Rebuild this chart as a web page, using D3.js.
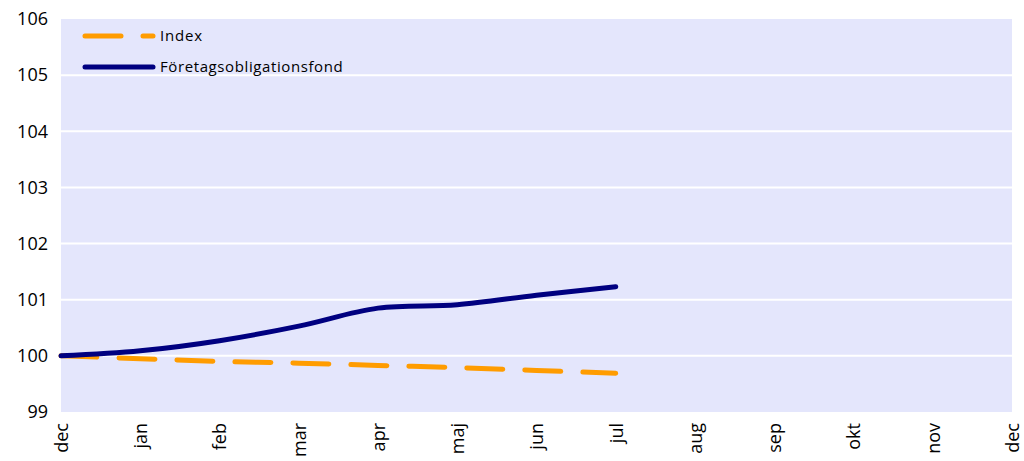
<!DOCTYPE html>
<html>
<head>
<meta charset="utf-8">
<script src="https://cdn.jsdelivr.net/npm/d3@7"></script>
<style>
  body { margin: 0; background: #fff; }
  text { font-family: "Open Sans", "Noto Sans", sans-serif; }
</style>
</head>
<body>
<svg id="chart" width="1024" height="461"></svg>
<script>
// data
var months = ["dec", "jan", "feb", "mar", "apr", "maj", "jun", "jul", "aug", "sep", "okt", "nov", "dec2"]
var fondValues = [100, 100.09, 100.27, 100.53, 100.85, 100.91, 101.08, 101.23]
var indexValues = [100, 99.95, 99.9, 99.87, 99.83, 99.79, 99.74, 99.69]
var yTicks = [99, 100, 101, 102, 103, 104, 105, 106]

var margin = { left: 61, top: 19, right: 12, bottom: 49 }
var width = 1024 - margin.left - margin.right
var height = 461 - margin.top - margin.bottom

var svg = d3.select("#chart")
var chart = svg.append("g")
  .attr("transform", "translate(" + margin.left + "," + margin.top + ")")

var xscale = d3.scalePoint().domain(months).range([0, width])
var yscale = d3.scaleLinear().domain([99, 106]).range([height, 0])

// plot background
chart.append("rect")
  .attr("width", width)
  .attr("height", height)
  .attr("fill", "#e4e6fc")

// white gridlines
chart.selectAll(".grid")
  .data(yTicks.slice(1, -1))
  .enter()
  .append("line")
  .attr("x1", 0)
  .attr("x2", width)
  .attr("y1", function (d) { return yscale(d) })
  .attr("y2", function (d) { return yscale(d) })
  .attr("stroke", "#fff")
  .attr("stroke-width", 2)

// y axis labels
var yAxis = d3.axisLeft(yscale).tickValues(yTicks).tickFormat(d3.format("d")).tickSize(0).tickPadding(13)
chart.append("g").call(yAxis)
  .call(function (g) { g.select(".domain").remove() })
  .selectAll("text")
  .style("font-size", "18px")
  .style("font-family", "'Open Sans', sans-serif")
  .attr("fill", "#000")

// x axis labels (rotated)
var xAxis = d3.axisBottom(xscale).tickSize(0).tickFormat(function (d) { return d.replace("2", "") })
chart.append("g")
  .attr("transform", "translate(0," + height + ")")
  .call(xAxis)
  .call(function (g) { g.select(".domain").remove() })
  .selectAll("text")
  .style("font-size", "18px")
  .style("font-family", "'Open Sans', sans-serif")
  .attr("fill", "#000")
  .attr("text-anchor", "end")
  .attr("transform", "rotate(-90)")
  .attr("x", -11)
  .attr("y", 0)
  .attr("dy", "0.35em")

var line = d3.line()
  .x(function (d, i) { return xscale(months[i]) })
  .y(function (d) { return yscale(d) })
  .curve(d3.curveCatmullRom.alpha(0.5))

chart.append("path")
  .datum(indexValues)
  .attr("d", line)
  .attr("fill", "none")
  .attr("stroke", "#ff9c00")
  .attr("stroke-width", 5)
  .attr("stroke-linecap", "round")
  .attr("stroke-dasharray", "36,22")

chart.append("path")
  .datum(fondValues)
  .attr("d", line)
  .attr("fill", "none")
  .attr("stroke", "#000080")
  .attr("stroke-width", 5)
  .attr("stroke-linecap", "round")

// legend
var legend = svg.append("g").attr("class", "legend")

legend.append("line")
  .attr("x1", 85).attr("x2", 153)
  .attr("y1", 36).attr("y2", 36)
  .attr("stroke", "#ff9c00")
  .attr("stroke-width", 5)
  .attr("stroke-linecap", "round")
  .attr("stroke-dasharray", "36,22")

legend.append("line")
  .attr("x1", 85).attr("x2", 153)
  .attr("y1", 67).attr("y2", 67)
  .attr("stroke", "#000080")
  .attr("stroke-width", 5)
  .attr("stroke-linecap", "round")

legend.append("text")
  .text("Index")
  .attr("x", 160).attr("y", 36).attr("dy", "0.35em")
  .style("font-size", "15px")
  .style("letter-spacing", "0.8px")

legend.append("text")
  .text("Företagsobligationsfond")
  .attr("x", 160).attr("y", 67).attr("dy", "0.35em")
  .style("font-size", "15px")
  .style("letter-spacing", "0.6px")
</script>
</body>
</html>
